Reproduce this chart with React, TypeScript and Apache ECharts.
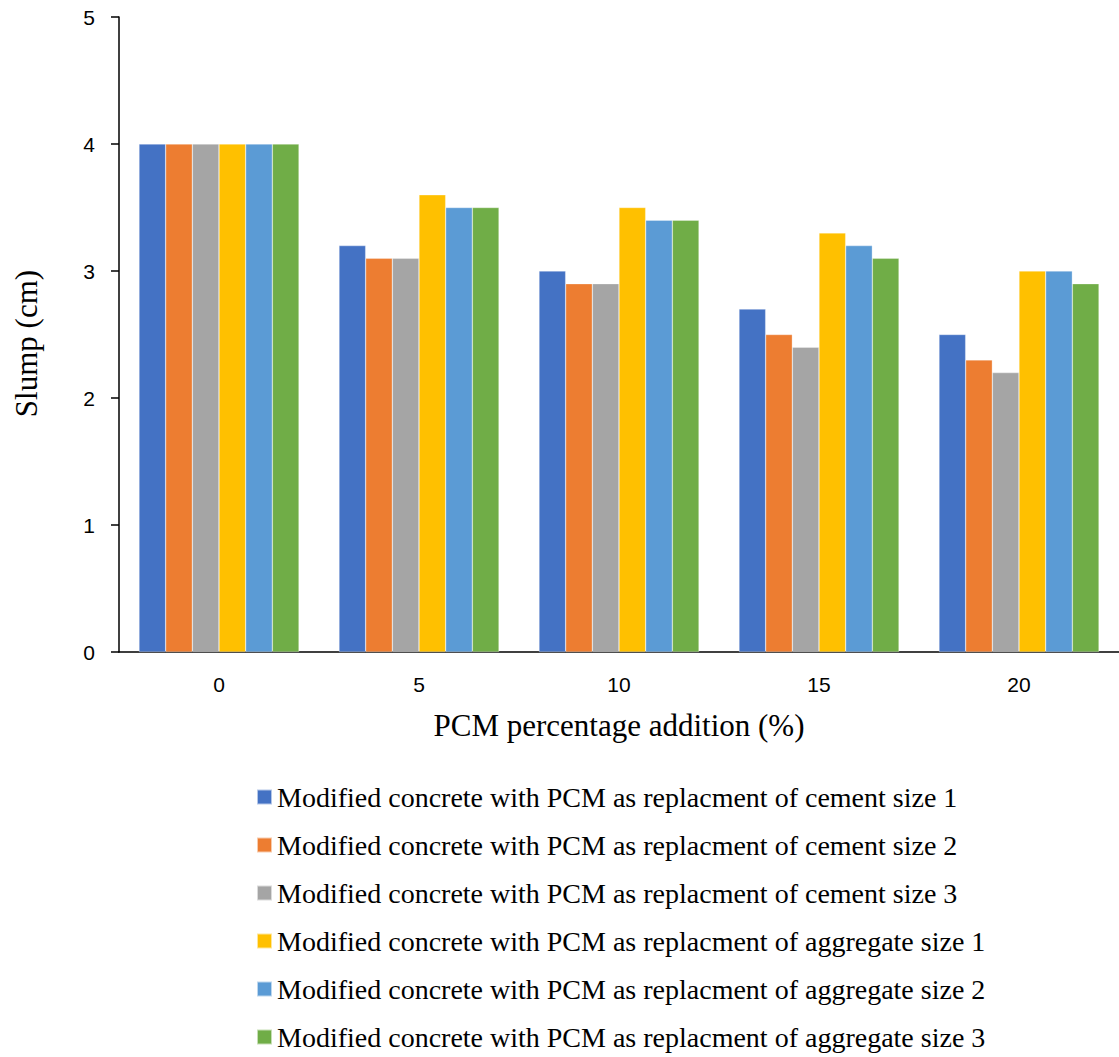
import React, { useEffect, useRef } from "react";
import * as echarts from "echarts";

const categories = ["0", "5", "10", "15", "20"];
const seriesNames = [
  "Modified concrete with PCM as replacment of cement size 1",
  "Modified concrete with PCM as replacment of cement size 2",
  "Modified concrete with PCM as replacment of cement size 3",
  "Modified concrete with PCM as replacment of aggregate size 1",
  "Modified concrete with PCM as replacment of aggregate size 2",
  "Modified concrete with PCM as replacment of aggregate size 3",
];
const cementSize1 = [4.0, 3.2, 3.0, 2.7, 2.5];
const cementSize2 = [4.0, 3.1, 2.9, 2.5, 2.3];
const cementSize3 = [4.0, 3.1, 2.9, 2.4, 2.2];
const aggregateSize1 = [4.0, 3.6, 3.5, 3.3, 3.0];
const aggregateSize2 = [4.0, 3.5, 3.4, 3.2, 3.0];
const aggregateSize3 = [4.0, 3.5, 3.4, 3.1, 2.9];
const seriesValues = [cementSize1, cementSize2, cementSize3, aggregateSize1, aggregateSize2, aggregateSize3];
const colors = ["#4472C4", "#ED7D31", "#A5A5A5", "#FFC000", "#5B9BD5", "#70AD47"];

export default function App() {
  const ref = useRef<HTMLDivElement>(null);
  useEffect(() => {
    document.body.style.margin = "0";
    const chart = echarts.init(ref.current!, undefined, { renderer: "svg" });
    const serif = "'Liberation Serif', 'Times New Roman', serif";
    const sans = "'Liberation Sans', Arial, sans-serif";
    chart.setOption({
      animation: false,
      backgroundColor: "#ffffff",
      color: colors,
      grid: { left: 119, top: 17, width: 1007, height: 635, containLabel: false },
      legend: {
        orient: "vertical",
        left: 256,
        top: 783,
        padding: 0,
        itemWidth: 15,
        itemHeight: 15,
        itemGap: 20,
        icon: "rect",
        textStyle: { fontFamily: serif, fontSize: 28, color: "#000" },
        data: seriesNames,
      },
      xAxis: {
        type: "category",
        data: categories,
        name: "PCM percentage addition (%)",
        nameLocation: "middle",
        nameGap: 58,
        nameTextStyle: { fontFamily: serif, fontSize: 31, color: "#000" },
        axisLine: { show: true, lineStyle: { color: "#000", width: 1.5 } },
        axisTick: { show: false },
        axisLabel: { fontFamily: sans, fontSize: 21, color: "#000", margin: 22 },
      },
      yAxis: {
        type: "value",
        min: 0,
        max: 5,
        interval: 1,
        name: "Slump (cm)",
        nameLocation: "middle",
        nameGap: 77,
        nameRotate: 90,
        nameTextStyle: { fontFamily: serif, fontSize: 31, color: "#000", padding: [0, 18, 0, 0] },
        axisLine: { show: true, lineStyle: { color: "#000", width: 1.5 } },
        axisTick: { show: true, length: 8, lineStyle: { color: "#000", width: 1.5 } },
        axisLabel: { fontFamily: sans, fontSize: 21, color: "#000", margin: 24 },
        splitLine: { show: false },
      },
      series: seriesNames.map((name, i) => ({
        name,
        type: "bar",
        data: seriesValues[i],
        barGap: "0%",
        barCategoryGap: "20%",
        itemStyle: { color: colors[i], borderColor: "rgba(255,255,255,0.6)", borderWidth: 0.5 },
      })),
    });
    return () => chart.dispose();
  }, []);
  return <div ref={ref} style={{ width: 1119, height: 1057 }} />;
}
